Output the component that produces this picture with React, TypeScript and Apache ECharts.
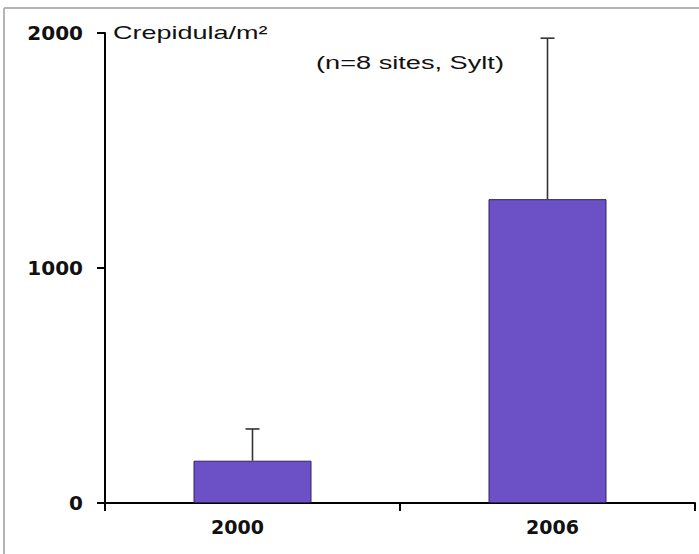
import React, { useEffect, useRef } from "react";
import * as echarts from "echarts";

const categories = ["2000", "2006"];
const means = [180, 1293];
const errors = [135, 685];
const yTicks = [0, 1000, 2000];
const unitLabel = "Crepidula/m²";
const noteLabel = "(n=8 sites, Sylt)";

export default function App() {
  const ref = useRef<HTMLDivElement>(null);

  useEffect(() => {
    if (!ref.current) return;
    const chart = echarts.init(ref.current, undefined, { renderer: "svg" });
    const errData = categories.map((c, i) => [i, means[i], means[i] + errors[i]]);

    chart.setOption({
      animation: false,
      backgroundColor: "#ffffff",
      grid: { left: 105, right: 4, top: 33, bottom: 51 },
      xAxis: {
        type: "category",
        data: categories,
        boundaryGap: true,
        axisLine: { lineStyle: { color: "#000", width: 2 } },
        axisTick: { show: true, length: 8, alignWithLabel: false, lineStyle: { color: "#000", width: 2 } },
        axisLabel: {
          margin: 14,
          formatter: (v: string) => (v === categories[0] ? `{a|${v}}` : `{b|${v}}`),
          rich: {
            a: { fontFamily: "DejaVu Sans", fontWeight: "bold", fontSize: 19, color: "#111", padding: [0, 30, 0, 0] },
            b: { fontFamily: "DejaVu Sans", fontWeight: "bold", fontSize: 19, color: "#111", padding: [0, 0, 0, 10] },
          },
        },
      },
      yAxis: {
        type: "value",
        min: yTicks[0],
        max: yTicks[yTicks.length - 1],
        interval: yTicks[1] - yTicks[0],
        splitLine: { show: false },
        axisLine: { show: true, lineStyle: { color: "#000", width: 2 } },
        axisTick: { show: true, length: 8, lineStyle: { color: "#000", width: 2 } },
        axisLabel: {
          margin: 22,
          formatter: (v: number) => String(v),
          fontFamily: "DejaVu Sans",
          fontWeight: "bold",
          fontSize: 20,
          color: "#111",
        },
      },
      series: [
        {
          type: "bar",
          data: means,
          barWidth: "40%",
          itemStyle: { color: "#6b51c5", borderColor: "#2e2560", borderWidth: 1 },
          z: 2,
        },
        {
          type: "custom",
          data: errData,
          z: 3,
          renderItem: (params: any, api: any) => {
            const x = api.value(0);
            const p0 = api.coord([x, api.value(1)]);
            const p1 = api.coord([x, api.value(2)]);
            const hw = 7;
            const st = { stroke: "#333", lineWidth: 1.6 };
            return {
              type: "group",
              children: [
                { type: "line", shape: { x1: p0[0], y1: p0[1], x2: p1[0], y2: p1[1] }, style: st },
                { type: "line", shape: { x1: p1[0] - hw, y1: p1[1], x2: p1[0] + hw, y2: p1[1] }, style: st },
              ],
            };
          },
        },
      ],
      graphic: [
        { type: "line", shape: { x1: 4, y1: 8, x2: 699, y2: 8 }, style: { stroke: "#b4b4b4", lineWidth: 2 } },
        { type: "line", shape: { x1: 4, y1: 8, x2: 4, y2: 554 }, style: { stroke: "#b4b4b4", lineWidth: 2 } },
        {
          type: "text",
          x: 113,
          y: 32,
          scaleX: 1.42,
          style: {
            text: unitLabel,
            fontFamily: "Liberation Sans",
            fontSize: 19,
            fill: "#111",
            align: "left",
            verticalAlign: "middle",
          },
        },
        {
          type: "text",
          x: 316,
          y: 63,
          scaleX: 1.43,
          style: {
            text: noteLabel,
            fontFamily: "Liberation Sans",
            fontSize: 19,
            fill: "#111",
            align: "left",
            verticalAlign: "middle",
          },
        },
      ],
    });
    return () => chart.dispose();
  }, []);

  return (
    <div
      ref={ref}
      style={{ position: "fixed", left: 0, top: 0, width: 699, height: 554, background: "#fff" }}
    />
  );
}
